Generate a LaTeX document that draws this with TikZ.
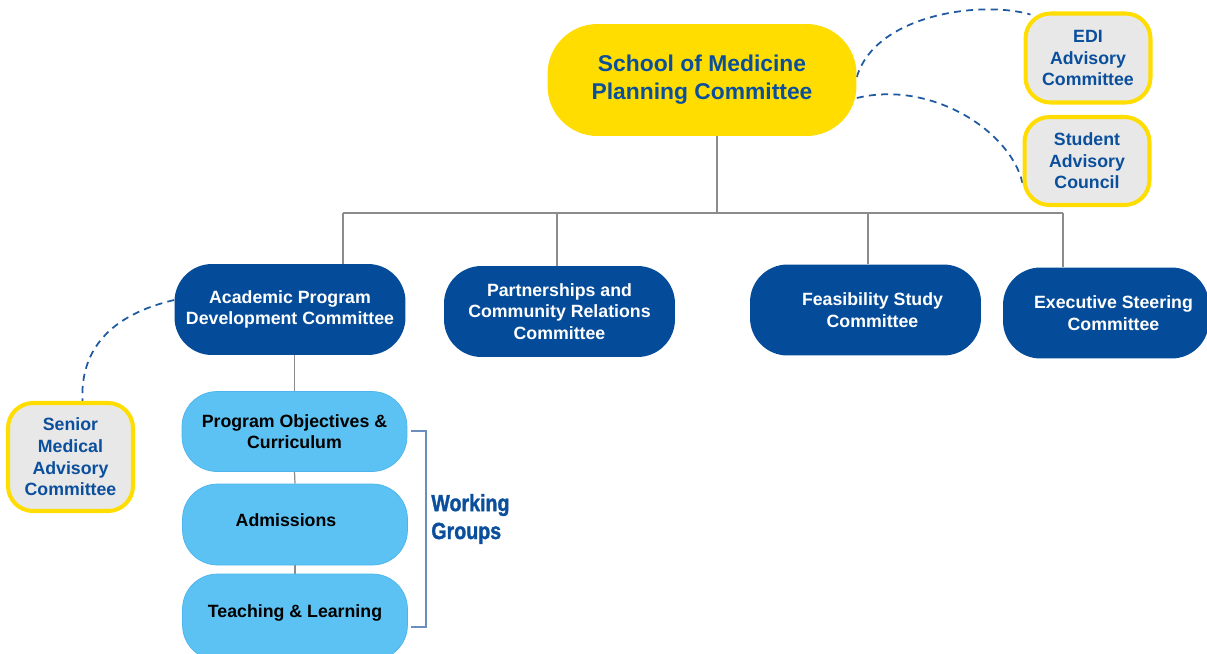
\documentclass[tikz,border=0pt]{standalone}
\usepackage{fontspec}
\setmainfont{Liberation Sans}
\newfontfamily\labelfont{Liberation Sans}[BoldFeatures={FakeBold=1.6}]
\usetikzlibrary{backgrounds}

\definecolor{navy}{HTML}{044C9A}
\definecolor{gold}{HTML}{FFDD00}
\definecolor{sky}{HTML}{5BC2F3}
\definecolor{skyline}{HTML}{4DB4EC}
\definecolor{panel}{HTML}{E8E8E8}
\definecolor{inkblue}{HTML}{0B4F9C}
\definecolor{wiregray}{HTML}{8C8C8C}
\definecolor{dashblue}{HTML}{1F5AA0}
\definecolor{bracketblue}{HTML}{6A8FBF}

% narrow bold lettering for the bracket label
\newcommand{\narrowword}[1]{\scalebox{0.84}[1]{#1}}

\tikzset{
  head/.style={fill=gold,draw=none,rounded corners=1cm,minimum width=6.18cm,
    minimum height=2.24cm,inner sep=0pt,align=center,text=inkblue,
    font=\fontsize{13}{15.9}\selectfont\bfseries},
  advisory/.style={fill=panel,draw=gold,line width=2.3pt,rounded corners=0.5cm,
    minimum width=2.5cm,inner sep=0pt,align=center,text=inkblue,
    font=\fontsize{10.1}{12.3}\selectfont\bfseries},
  committee/.style={fill=navy,draw=none,rounded corners=0.75cm,minimum width=4.62cm,
    minimum height=1.82cm,inner sep=0pt,align=center,text=white,
    font=\fontsize{10.1}{12.3}\selectfont\bfseries},
  group/.style={fill=sky,draw=skyline,thin,rounded corners=0.7cm,minimum width=4.5cm,
    minimum height=1.6cm,inner sep=0pt,align=center,text=black,
    font=\fontsize{10.1}{12.3}\selectfont\bfseries},
  wire/.style={draw=wiregray,line width=0.7pt},
  link/.style={draw=dashblue,line width=1pt,dashed,dash pattern=on 4pt off 3pt},
}

\begin{document}
\begin{tikzpicture}[x=0.02cm,y=-0.02cm]
\useasboundingbox (0,0) rectangle (1207,653);

% Planning committee and its advisory bodies
\node[head] (som) at (702,80) {School of Medicine\\Planning Committee};
\node[advisory,minimum height=1.78cm] (edi) at (1088,58) {EDI\\Advisory\\Committee};
\node[advisory,minimum height=1.76cm] (sac) at (1087,161) {Student\\Advisory\\Council};

% Committees
\node[committee] (apdc) at (290,309.5) {Academic Program\\Development Committee};
\node[committee] (pcrc) at (559.5,311.5) {Partnerships and\\Community Relations\\Committee};
\node[committee] (fsc) at (865.5,310) {\hspace*{0.28cm}Feasibility Study\\\hspace*{0.28cm}Committee};
\node[committee,minimum width=4.12cm] (esc) at (1106,313) {\hspace*{0.3cm}Executive Steering\\\hspace*{0.3cm}Committee};

% Working groups
\node[group] (poc) at (294.5,431.5) {Program Objectives \&\\Curriculum};
\node[group,minimum height=1.62cm,text depth=4.6pt] (adm) at (295,524.5) {Admissions\hspace*{0.36cm}};
\node[group,minimum height=1.72cm,text depth=6.8pt] (tl) at (295,617) {Teaching \& Learning};

\node[advisory,minimum height=2.16cm] (smac) at (70.5,457) {Senior\\Medical\\Advisory\\Committee};

\begin{pgfonlayer}{background}
% Tree wires
\coordinate (bus) at (717,213);
\draw[wire] (som.south -| bus) -- (bus);
\draw[wire] (343,213) -- (1063,213);
\foreach \x/\n in {343/apdc,557/pcrc,868/fsc,1063/esc} {
  \draw[wire] (\x,213) -- (\x,213 |- \n.north);
}
\draw[wire] (poc.north |- apdc.south) -- (poc.north);
\draw[wire] (poc.south) -- (adm.north);
\draw[wire] (adm.south) -- (tl.north);

% Advisory links
\draw[link] ([yshift=0.06cm]som.east) .. controls (875,15) and (980,0) .. ([xshift=0.14cm,yshift=-0.06cm]edi.north west);
\draw[link] ([yshift=-0.36cm]som.east) .. controls (930,80) and (1010,130) .. ([yshift=-0.44cm]sac.west);
\draw[link] ([yshift=0.19cm]apdc.west) .. controls (110,315) and (80,350) .. ([xshift=0.24cm]smac.north);
\end{pgfonlayer}

% Bracket round the working groups
\coordinate (wg-top) at (426,431);
\coordinate (wg-bot) at (426,627);
\draw[bracketblue,line width=0.8pt] ([xshift=-0.3cm]wg-top) -- (wg-top) -- (wg-bot) -- ([xshift=-0.3cm]wg-bot);
\node[anchor=west,align=left,text=inkblue,inner sep=0pt,
  font=\labelfont\fontsize{13.3}{15.9}\selectfont\bfseries] (wg) at (431,519) {\narrowword{Working}\\\narrowword{Groups}};

\end{tikzpicture}
\end{document}
